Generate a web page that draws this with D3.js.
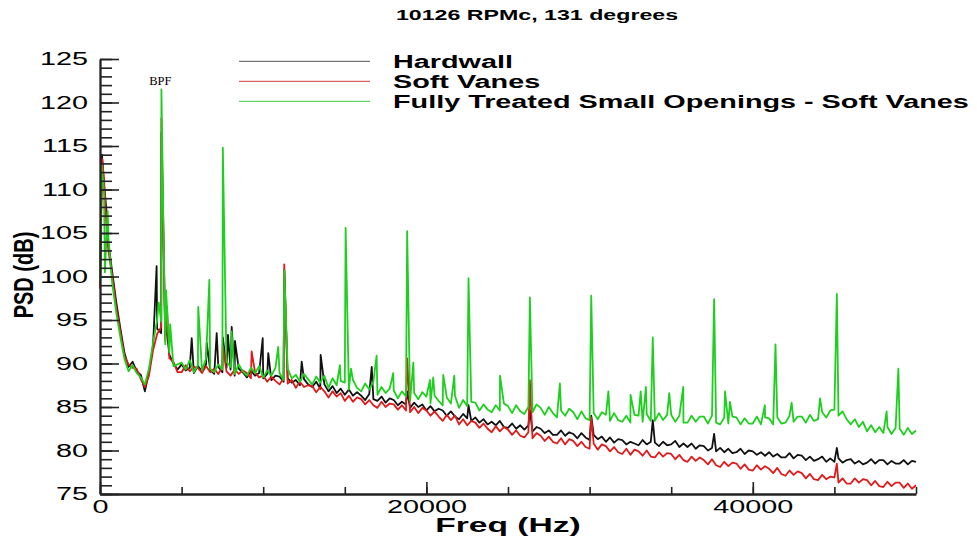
<!DOCTYPE html>
<html>
<head>
<meta charset="utf-8">
<script src="https://cdn.jsdelivr.net/npm/d3@7"></script>
<style>
  html, body { margin: 0; padding: 0; background: #fff; }
  svg { display: block; font-family: "Liberation Sans", Arial, sans-serif; }
</style>
</head>
<body>
<svg id="chart" width="977" height="537"></svg>
<script>
// ---------------- DATA ----------------
const title = "10126 RPMc, 131 degrees";
const seriesNames = ["Hardwall", "Soft Vanes", "Fully Treated Small Openings - Soft Vanes"];
const xTickLabels = [0, 20000, 40000];
const yTickLabels = [75, 80, 85, 90, 95, 100, 105, 110, 115, 120, 125];
const peakLabel = "BPF";

// Frequency grid of the broadband PSD (Hz), one value per 250 Hz
const freqGrid = d3.range(0, 50001, 250);

// Hardwall PSD (dB) on freqGrid
const hardwall = [
  99.0, 110.5, 104.0, 100.5,  97.0, 94.0, 91.2, 89.6,  90.2, 89.1, 88.7, 86.8,  89.0, 92.0, 94.0, 93.5,  93.2, 91.0, 90.0, 89.3,
  89.9, 89.2, 89.5, 88.9,  89.7, 89.1, 89.9, 89.3,  88.8, 89.6, 89.0, 89.5,  89.3, 88.6, 89.4, 89.0,  88.4, 89.2, 88.6, 88.9,
  88.3, 88.8, 88.1, 88.6,  88.5, 87.9, 88.3, 87.8,  88.1, 87.5, 88.2, 87.6,  87.3, 87.9, 87.1, 87.6,  86.8, 87.4, 86.6, 87.1,
  86.4, 87.0, 86.3, 86.7,  86.3, 85.8, 86.5, 85.9,  85.7, 86.2, 85.5, 86.0,  85.8, 85.2, 85.6, 85.3,  84.9, 85.5, 85.0, 85.3,
  84.6, 85.1, 84.5, 84.8,  84.6, 84.0, 84.5, 83.9,  83.6, 84.2, 83.7, 83.4,  83.8, 83.2, 83.6, 83.0,  83.3, 82.9, 83.4, 82.7,
  82.6, 83.1, 82.5, 82.9,  82.4, 82.9, 82.2, 82.7,  82.5, 82.0, 82.3, 81.8,  81.8, 82.3, 81.7, 82.1,  81.9, 81.4, 82.0, 81.5,
  81.2, 81.8, 81.3, 81.6,  81.0, 81.5, 80.9, 81.3,  81.2, 80.7, 81.0, 80.8,  80.6, 81.2, 80.7, 81.0,  80.9, 80.5, 81.0, 80.6,
  80.7, 81.1, 80.4, 80.8,  80.4, 80.8, 80.2, 80.6,  80.5, 80.0, 80.3, 79.9,  80.3, 79.8, 80.2, 79.7,  79.8, 80.2, 79.6, 80.0,
  79.9, 79.5, 79.8, 79.4,  79.8, 79.3, 79.6, 79.2,  79.2, 79.7, 79.1, 79.5,  79.4, 78.9, 79.3, 78.8,  79.0, 79.3, 78.7, 79.1,
  78.7, 79.1, 78.6, 78.9,  79.0, 78.5, 78.8, 78.4,  78.6, 79.0, 78.5, 78.9,  78.9, 78.4, 78.8, 78.5,  78.5, 78.9, 78.4, 78.8,
  78.7
];

// Soft Vanes PSD (dB) on freqGrid
const softVanes = [
  98.6, 111.0, 103.2, 100.0,  96.4, 93.6, 90.8, 89.9,  89.5, 89.4, 88.2, 87.3,  88.6, 91.5, 93.4, 94.2,  92.6, 90.6, 90.2, 89.0,
  89.0, 89.8, 89.1, 89.6,  89.5, 88.9, 89.7, 89.0,  89.4, 88.8, 89.6, 89.1,  88.6, 89.3, 88.8, 89.2,  88.9, 88.3, 89.0, 88.4,
  88.6, 87.9, 88.5, 88.0,  87.6, 88.3, 87.7, 88.1,  87.2, 87.9, 87.3, 87.5,  87.4, 86.7, 87.3, 86.8,  86.1, 86.8, 86.2, 86.6,
  85.7, 86.3, 85.6, 86.1,  85.9, 85.3, 85.8, 85.2,  84.9, 85.6, 85.0, 85.4,  85.3, 84.7, 85.2, 84.6,  84.4, 85.0, 84.3, 84.9,
  84.6, 84.0, 84.5, 83.9,  83.4, 84.1, 83.5, 84.0,  83.0, 83.6, 82.9, 83.4,  83.2, 82.6, 83.1, 82.5,  82.1, 82.8, 82.2, 82.7,
  82.4, 81.8, 82.3, 81.7,  81.5, 82.1, 81.4, 82.0,  81.7, 81.1, 81.6, 81.0,  80.8, 81.4, 80.7, 81.3,  81.1, 80.5, 81.0, 80.4,
  80.2, 80.8, 80.1, 80.7,  80.5, 79.9, 80.4, 79.8,  79.6, 80.2, 79.5, 80.1,  79.9, 79.4, 80.0, 79.3,  79.2, 79.8, 79.3, 79.7,
  79.6, 79.0, 79.5, 78.9,  78.7, 79.3, 78.8, 79.2,  78.9, 78.4, 79.0, 78.3,  78.1, 78.7, 78.2, 78.6,  78.5, 77.9, 78.4, 77.8,
  77.7, 78.3, 77.8, 78.2,  77.9, 77.4, 78.0, 77.3,  77.1, 77.7, 77.2, 77.6,  77.4, 76.8, 77.3, 76.7,  76.6, 77.2, 76.7, 77.0,
  76.9, 76.3, 76.8, 76.2,  76.2, 76.8, 76.3, 76.7,  76.6, 76.0, 76.5, 75.9,  75.8, 76.4, 75.9, 76.3,  76.3, 75.7, 76.2, 75.6,
  76.0
];

// Fully Treated Small Openings - Soft Vanes PSD (dB) on freqGrid
const fullyTreated = [
  99.5, 109.5, 104.8, 99.2,  95.8, 93.0, 90.5, 89.1,  89.8, 88.9, 88.4, 87.6,  89.4, 92.4, 95.0, 94.8,  92.2, 91.3, 89.7, 89.9,
  90.1, 89.3, 90.4, 89.0,  89.8, 89.2, 90.6, 89.4,  89.0, 89.9, 89.3, 90.2,  89.6, 88.8, 89.9, 89.1,  88.6, 89.5, 88.9, 89.7,
  88.4, 89.2, 88.6, 89.5,  88.9, 88.1, 89.4, 88.3,  88.7, 87.9, 88.8, 88.2,  87.6, 88.5, 87.8, 88.6,  87.2, 88.3, 87.5, 88.0,
  87.8, 87.0, 88.1, 87.2,  86.8, 87.7, 87.0, 87.9,  86.4, 87.3, 86.6, 87.1,  86.9, 86.0, 86.8, 86.2,  85.7, 86.6, 85.9, 86.7,
  86.2, 85.4, 86.3, 85.7,  85.2, 86.1, 85.4, 86.3,  84.9, 85.8, 85.1, 85.6,  85.5, 84.6, 85.3, 84.7,  84.4, 85.2, 84.6, 85.4,
  85.1, 84.3, 85.2, 84.5,  84.2, 85.0, 84.4, 85.3,  84.9, 84.1, 85.0, 84.3,  83.8, 84.6, 84.0, 84.8,  84.4, 83.6, 84.5, 83.7,
  83.5, 84.3, 83.6, 84.4,  84.1, 83.4, 84.3, 83.5,  83.3, 84.0, 83.2, 84.1,  84.0, 83.3, 84.2, 83.4,  83.4, 84.3, 83.5, 84.1,
  84.1, 83.3, 84.0, 83.2,  83.2, 84.0, 83.3, 83.9,  83.9, 83.1, 84.0, 83.2,  83.0, 83.8, 83.1, 83.9,  83.8, 83.0, 83.7, 83.1,
  83.1, 83.9, 83.0, 83.8,  83.7, 83.0, 83.8, 83.1,  83.2, 84.0, 83.3, 83.9,  83.9, 83.2, 84.1, 83.4,  83.6, 84.4, 83.8, 84.6,
  84.7, 84.0, 84.5, 83.6,  83.0, 83.6, 82.7, 83.3,  82.2, 82.9, 82.1, 82.7,  82.0, 82.7, 81.9, 82.6,  82.5, 81.8, 82.6, 81.9,
  82.3
];

// Narrow tonal peaks [frequency Hz, dB]
const hardwallPeaks = [
  [120, 114.0], [450, 106.5], [3470, 101.2], [3763, 116.5], [4050, 94.5], [5620, 92.9], [6540, 92.4],
  [7150, 93.5], [7526, 93.0], [7840, 93.3], [8070, 94.2], [8270, 92.6], [9970, 92.9], [10310, 91.2],
  [11290, 100.8], [12360, 90.2], [13520, 91.0], [16650, 89.6], [18820, 86.8], [22580, 85.2],
  [26340, 84.6], [30100, 84.0], [33870, 83.5], [37630, 81.9], [45150, 80.3]
];
const softVanesPeaks = [
  [140, 113.5], [420, 105.0], [3763, 118.2], [4100, 96.5], [7526, 92.0], [9290, 91.4], [11290, 101.4],
  [18820, 90.6], [26340, 88.1], [30100, 83.8], [45150, 78.5]
];
const fullyTreatedPeaks = [
  [100, 112.8], [300, 100.5], [470, 107.5], [3600, 97.0], [3763, 121.5], [4050, 98.4], [4300, 94.5],
  [6020, 96.5], [6700, 99.6], [7526, 114.8], [8060, 93.7], [10920, 91.9], [11290, 100.7], [14700, 89.8],
  [15050, 105.6], [15380, 89.4], [16950, 90.9], [17970, 88.9], [18820, 105.2], [19200, 90.1],
  [20220, 88.1], [20420, 88.4], [21030, 88.7], [21710, 88.6], [22580, 99.8], [24510, 88.6],
  [26340, 97.6], [28180, 87.7], [30100, 97.8], [31150, 86.8], [32510, 86.4], [33130, 86.8],
  [33450, 87.3], [33870, 93.0], [34880, 86.6], [35740, 87.3], [37630, 97.4], [38300, 86.8],
  [38600, 85.6], [40740, 85.2], [41390, 92.2], [42380, 85.5], [44120, 86.0], [45150, 98.0],
  [48200, 84.5], [48920, 89.4]
];
const bpfFreq = 3763;
const bpfLevel = 121.5;

// ---------------- CHART ----------------
const svg = d3.select("#chart");
const colors = ["#111111", "#e01a1a", "#1fcf1f"];
const legendColors = ["#555555", "#d84040", "#3cc83c"];

const x = d3.scaleLinear().domain([0, 50000]).range([100, 916]);
const y = d3.scaleLinear().domain([75, 125]).range([494, 59]);

function build(vals, peaks) {
  const pts = freqGrid.map((f, i) => [f, vals[i]]).concat(peaks);
  pts.sort((a, b) => a[0] - b[0]);
  return pts;
}
const series = [
  build(hardwall, hardwallPeaks),
  build(softVanes, softVanesPeaks),
  build(fullyTreated, fullyTreatedPeaks)
];

const line = d3.line().x(d => x(d[0])).y(d => y(d[1]));

svg.append("g").selectAll("path").data(series).join("path")
  .attr("d", line)
  .attr("fill", "none")
  .attr("stroke", (d, i) => colors[i])
  .attr("stroke-width", 1.8)
  .attr("stroke-linejoin", "round");

// Y axis (ticks pointing inward)
const yMinor = svg.append("g").attr("transform", "translate(100,0)")
  .call(d3.axisLeft(y).tickValues(d3.range(75, 126, 1)).tickSize(-12).tickSizeOuter(0).tickFormat(""));
yMinor.select(".domain").remove();
const yMajor = svg.append("g").attr("transform", "translate(100,0)")
  .call(d3.axisLeft(y).tickValues(yTickLabels).tickSize(-19).tickSizeOuter(0).tickPadding(0));
yMajor.selectAll("text")
  .attr("x", -12 / 1.6)
  .attr("transform", "scale(1.6,1)")
  .attr("font-size", 18)
  .attr("font-family", "Liberation Sans, Arial, sans-serif")
  .attr("fill", "#000");

// X axis (ticks pointing inward)
const xMinor = svg.append("g").attr("transform", "translate(0,494)")
  .call(d3.axisBottom(x).tickValues(d3.range(0, 50001, 5000)).tickSize(-7).tickSizeOuter(0).tickFormat(""));
xMinor.select(".domain").remove();
const xMajor = svg.append("g").attr("transform", "translate(0,494)")
  .call(d3.axisBottom(x).tickValues(xTickLabels).tickSize(-12).tickSizeOuter(0).tickPadding(6).tickFormat(d3.format("d")));
xMajor.selectAll("text")
  .attr("transform", "scale(1.6,1)")
  .attr("font-size", 18)
  .attr("font-family", "Liberation Sans, Arial, sans-serif")
  .attr("fill", "#000");

svg.selectAll(".domain").attr("stroke", "#222").attr("stroke-width", 2.3);
svg.selectAll(".tick line").attr("stroke", "#222").attr("stroke-width", 1.6);

// Axis titles
svg.append("text")
  .attr("transform", "translate(508,532) scale(1.6,1)")
  .attr("text-anchor", "middle")
  .attr("font-weight", "bold")
  .attr("font-size", 21)
  .text("Freq (Hz)");

svg.append("text")
  .attr("transform", "translate(33,275) rotate(-90) scale(1,1.4)")
  .attr("text-anchor", "middle")
  .attr("font-weight", "bold")
  .attr("font-size", 20)
  .text("PSD (dB)");

// Title
svg.append("text")
  .attr("transform", "translate(537,20) scale(1.6,1)")
  .attr("text-anchor", "middle")
  .attr("font-weight", "bold")
  .attr("font-size", 14.5)
  .text(title);

// BPF label
svg.append("text")
  .attr("x", x(bpfFreq) - 1)
  .attr("y", y(bpfLevel) - 4)
  .attr("text-anchor", "middle")
  .attr("font-family", "Liberation Serif, Times New Roman, serif")
  .attr("font-size", 12.5)
  .text(peakLabel);

// Legend
const legY = [61.3, 81.3, 101.3];
const leg = svg.append("g");
seriesNames.forEach((name, i) => {
  leg.append("line")
    .attr("x1", 239).attr("x2", 370)
    .attr("y1", legY[i]).attr("y2", legY[i])
    .attr("stroke", legendColors[i]).attr("stroke-width", 1);
  leg.append("text")
    .attr("transform", `translate(393,${legY[i] + 6.4}) scale(1.6,1)`)
    .attr("font-weight", "bold")
    .attr("font-size", 18)
    .text(name);
});
</script>
</body>
</html>
